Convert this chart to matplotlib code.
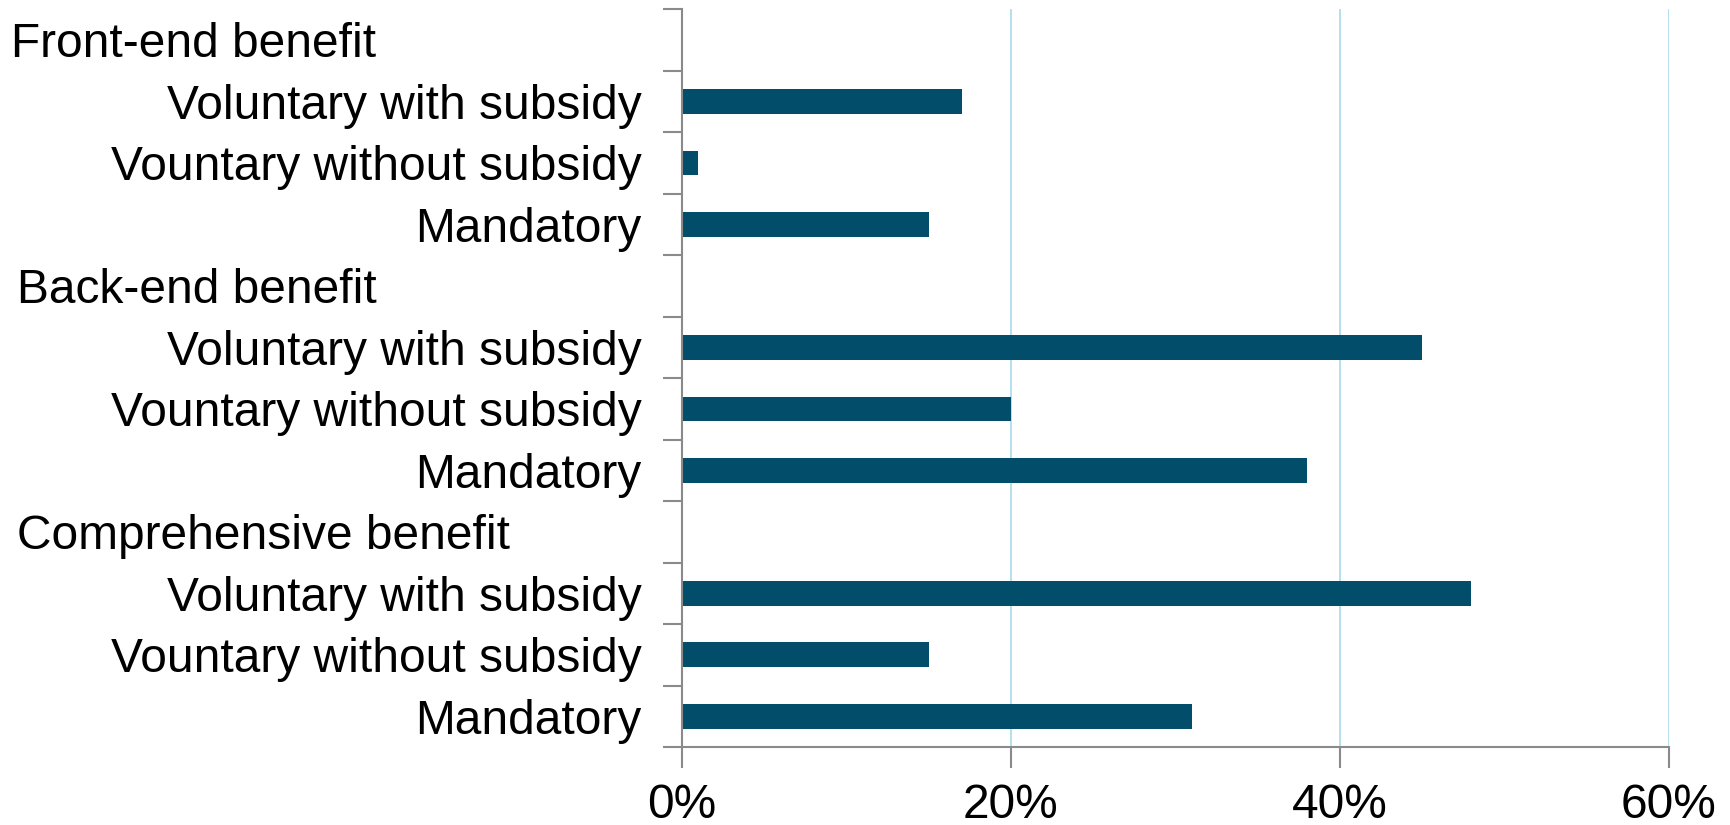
import numpy as np
import matplotlib.pyplot as plt
from matplotlib.transforms import blended_transform_factory
from matplotlib.ticker import FuncFormatter

# -----------------------------
# Data (top to bottom)
# -----------------------------
groups = ["Front-end benefit", "Back-end benefit", "Comprehensive benefit"]
items = ["Voluntary with subsidy", "Vountary without subsidy", "Mandatory"]
front_end = [17, 1, 15]
back_end = [45, 20, 38]
comprehensive = [48, 15, 31]
x_ticks = [0, 20, 40, 60]

BAR_COLOR = "#024D6A"
GRID_COLOR = "#A9DAEC"
AXIS_COLOR = "#8A8A8A"
FONT_SIZE = 34.5

plt.rcParams["font.family"] = ["Liberation Sans", "DejaVu Sans"]

# -----------------------------
# Rows: each group is a header row followed by its items
# -----------------------------
labels, values, is_header = [], [], []
for name, vals in zip(groups, [front_end, back_end, comprehensive]):
    labels.append(name)
    values.append(np.nan)
    is_header.append(True)
    for item, v in zip(items, vals):
        labels.append(item)
        values.append(v)
        is_header.append(False)

n_rows = len(labels)
y_pos = np.arange(n_rows)

fig = plt.figure(figsize=(17.31, 8.25), dpi=100)
ax = fig.add_axes([0.394, 0.0945, 0.570, 0.8945])

bar_vals = np.nan_to_num(np.array(values, dtype=float))
ax.barh(y_pos, bar_vals, height=0.4, color=BAR_COLOR, zorder=3)

ax.set_ylim(n_rows - 0.5, -0.5)
ax.set_xlim(0, 60)

# item labels as tick labels, headers as free text
ax.set_yticks(y_pos)
ax.set_yticklabels([l if not h else "" for l, h in zip(labels, is_header)], fontsize=FONT_SIZE)
ax.tick_params(axis="y", which="major", length=0, pad=29)
ax.set_yticks(np.arange(n_rows + 1) - 0.5, minor=True)
ax.tick_params(axis="y", which="minor", length=14, width=1.5, color=AXIS_COLOR)

trans = blended_transform_factory(fig.transFigure, ax.transData)
header_x = [11, 17, 17]
for (yy, lab), hx in zip([(y, l) for y, l, h in zip(y_pos, labels, is_header) if h], header_x):
    ax.text(hx / 1731, yy, lab, transform=trans, ha="left", va="center_baseline", fontsize=FONT_SIZE)

ax.set_xticks(x_ticks)
ax.xaxis.set_major_formatter(FuncFormatter(lambda v, p: f"{v:.0f}%"))
ax.tick_params(axis="x", length=15, width=1.5, color=AXIS_COLOR, labelsize=FONT_SIZE, pad=11)

ax.grid(True, axis="x", color=GRID_COLOR, linewidth=1.2, zorder=0)
for side in ["top", "right"]:
    ax.spines[side].set_visible(False)
for side in ["left", "bottom"]:
    ax.spines[side].set_color(AXIS_COLOR)
    ax.spines[side].set_linewidth(1.5)
    ax.spines[side].set_zorder(4)

fig.savefig("out.png", dpi=100)
